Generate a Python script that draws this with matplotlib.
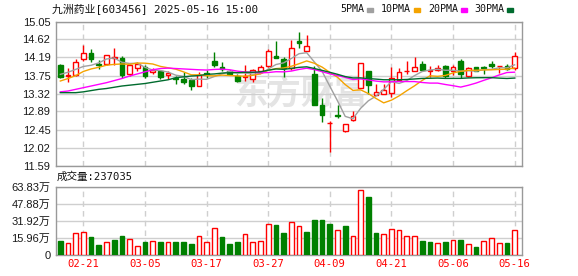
import numpy as np
import pandas as pd
import matplotlib
matplotlib.use("Agg")
import matplotlib.pyplot as plt
from matplotlib.patches import Rectangle

# ── Data ──────────────────────────────────────────────────────────────────────

TITLE = "九洲药业[603456] 2025-05-16 15:00"

DATES = [
    "02-18", "02-19", "02-20", "02-21", "02-24", "02-25", "02-26", "02-27", "02-28",
    "03-03", "03-04", "03-05", "03-06", "03-07", "03-10", "03-11", "03-12", "03-13",
    "03-14", "03-17", "03-18", "03-19", "03-20", "03-21", "03-24", "03-25", "03-26",
    "03-27", "03-28", "03-31", "04-01", "04-02", "04-03", "04-07", "04-08", "04-09",
    "04-10", "04-11", "04-14", "04-15", "04-16", "04-17", "04-18", "04-21", "04-22",
    "04-23", "04-24", "04-25", "04-28", "04-29", "04-30", "05-06", "05-07", "05-08",
    "05-09", "05-12", "05-13", "05-14", "05-15", "05-16",
]
TICK_DATES = ["02-21", "03-05", "03-17", "03-27", "04-09", "04-21", "05-06", "05-16"]

OPEN = [
    14.01, 13.74, 13.775, 14.155, 14.29, 14.02, 14.03, 14.17, 14.17, 13.80,
    13.93, 13.95, 13.83, 13.85, 13.76, 13.70, 13.67, 13.65, 13.49, 13.81,
    14.09, 13.96, 13.87, 13.74, 13.71, 13.67, 13.85, 13.98, 14.23, 14.15,
    13.93, 14.57, 14.34, 13.80, 13.04, 12.60, 12.80, 12.43, 12.69, 13.46,
    13.87, 13.29, 13.32, 13.34, 13.65, 13.85, 13.85, 14.03, 13.85, 13.88,
    13.97, 13.85, 14.09, 13.74, 13.96, 13.95, 14.03, 13.975, 13.98, 13.93,
]
HIGH = [
    14.02, 13.93, 14.15, 14.49, 14.38, 14.13, 14.24, 14.41, 14.23, 14.03,
    14.08, 14.01, 13.93, 13.89, 13.87, 13.74, 13.83, 13.70, 13.83, 13.89,
    14.31, 14.07, 13.89, 13.79, 14.01, 13.92, 14.00, 14.38, 14.59, 14.19,
    14.60, 14.79, 14.72, 13.98, 13.22, 12.66, 13.04, 12.59, 12.89, 14.06,
    13.87, 13.54, 13.56, 13.96, 13.93, 14.10, 14.19, 14.09, 13.97, 14.00,
    14.01, 14.00, 14.15, 13.96, 13.96, 13.97, 14.09, 13.99, 14.04, 14.31,
]
LOW = [
    13.70, 13.60, 13.735, 14.11, 14.075, 13.91, 14.00, 14.01, 13.70, 13.74,
    13.85, 13.70, 13.79, 13.66, 13.68, 13.55, 13.54, 13.40, 13.49, 13.70,
    13.95, 13.85, 13.76, 13.60, 13.63, 13.60, 13.84, 13.95, 14.17, 13.71,
    13.89, 14.41, 14.33, 13.05, 12.64, 11.91, 12.72, 12.39, 12.67, 13.46,
    13.30, 13.29, 13.30, 13.24, 13.62, 13.79, 13.85, 13.85, 13.71, 13.85,
    13.70, 13.77, 13.70, 13.72, 13.85, 13.79, 13.93, 13.81, 13.88, 13.89,
]
CLOSE = [
    13.71, 13.775, 14.075, 14.29, 14.14, 14.00, 14.24, 14.20, 13.77, 14.00,
    14.03, 13.74, 13.88, 13.71, 13.81, 13.66, 13.60, 13.49, 13.77, 13.78,
    14.00, 13.92, 13.78, 13.62, 13.73, 13.88, 13.96, 14.34, 14.17, 13.93,
    14.41, 14.53, 14.46, 13.05, 12.81, 12.62, 12.78, 12.59, 12.77, 14.06,
    13.52, 13.35, 13.40, 13.70, 13.84, 13.86, 13.95, 13.89, 13.88, 13.93,
    13.74, 13.95, 13.79, 13.93, 13.87, 13.93, 13.98, 13.985, 13.92, 14.23,
]
VOLUME = [
    128000, 112000, 202000, 211000, 164000, 96000, 125000, 144000, 182000, 150000,
    83000, 125000, 135000, 125000, 122000, 125000, 125000, 106000, 179000, 125000,
    256000, 164000, 106000, 125000, 199000, 125000, 135000, 288000, 279000, 202000,
    305000, 269000, 211000, 327000, 327000, 288000, 231000, 269000, 182000, 612000,
    539000, 202000, 199000, 247000, 231000, 179000, 179000, 135000, 125000, 115000,
    125000, 144000, 144000, 103000, 77000, 135000, 161000, 115000, 115000, 237035,
]

# moving-average values at the left edge, where the window reaches back
# before the first visible candle
MA5_HEAD = [13.78, 13.83, 13.90, 13.97]
MA10_HEAD = [13.62, 13.68, 13.75, 13.85, 13.91, 13.95, 14.00, 14.02, 14.03]
MA20_HEAD = [13.36, 13.38, 13.42, 13.46, 13.50, 13.54, 13.58, 13.63, 13.68, 13.74,
             13.79, 13.84, 13.89, 13.92, 13.93, 13.92, 13.91, 13.90, 13.89]
MA30_HEAD = [13.34, 13.34, 13.34, 13.36, 13.39, 13.42, 13.44, 13.47, 13.50, 13.52,
             13.54, 13.56, 13.59, 13.62, 13.65, 13.70, 13.72, 13.74, 13.75, 13.78,
             13.79, 13.81, 13.82, 13.82, 13.83, 13.83, 13.84, 13.88, 13.91]

PRICE_TICKS = [11.59, 12.02, 12.45, 12.89, 13.32, 13.75, 14.19, 14.62, 15.05]
VOL_TICKS = [0, 159600, 319200, 478800, 638300]
VOL_LABELS = ["0", "15.96万", "31.92万", "47.88万", "63.83万"]

# ── Style ─────────────────────────────────────────────────────────────────────

W, H = 578, 276
RED = "#ff0000"
GREEN = "#008000"
GRID = "#cfcfcf"
FRAME = "#999999"
MA_COLORS = {5: "#a0a0a0", 10: "#f4a300", 20: "#ff00ff", 30: "#006b2e"}
MONO = ["DejaVu Sans Mono", "Noto Sans CJK SC"]


def fx(px):
    return px / W


def fy(py):
    return 1 - py / H


def moving_average(close, n, head):
    ma = pd.Series(close).rolling(n).mean().to_numpy()
    ma[:n - 1] = head
    return ma


def main():
    o = np.array(OPEN)
    h = np.array(HIGH)
    l = np.array(LOW)
    c = np.array(CLOSE)
    v = np.array(VOLUME)
    x = np.arange(1, len(c) + 1)
    up = c >= o
    # volume colour follows close vs previous close
    prev = np.r_[o[0], c[:-1]]
    vol_up = c >= prev
    tick_x = [DATES.index(d) + 1 for d in TICK_DATES]

    fig = plt.figure(figsize=(W / 100, H / 100), dpi=100)
    ax = fig.add_axes([fx(56), fy(165.5), fx(466), 144 / H])
    axv = fig.add_axes([fx(56), fy(255), fx(466), 68.3 / H])

    # watermark
    ax.text(0.526, 0.49, "东方财富", transform=ax.transAxes, ha="center", va="center",
            fontsize=24, fontweight="bold", color="#e4e4e4",
            family="Noto Sans CJK SC", zorder=0)

    # candles
    ax.vlines(x, l, h, colors=np.where(up, RED, GREEN), lw=1, zorder=2)
    body = np.abs(c - o)
    ax.bar(x, body, bottom=np.minimum(o, c), width=0.62,
           color=np.where(up, "white", GREEN),
           edgecolor=np.where(up, RED, GREEN), lw=1, zorder=3)

    for n, head in [(5, MA5_HEAD), (10, MA10_HEAD), (20, MA20_HEAD), (30, MA30_HEAD)]:
        ax.plot(x, moving_average(c, n, head), color=MA_COLORS[n], lw=1, zorder=4)

    # volume
    axv.bar(x, v, width=0.62, color=np.where(vol_up, "white", GREEN),
            edgecolor=np.where(vol_up, RED, GREEN), lw=1, zorder=3)

    for a in (ax, axv):
        a.set_xlim(0.44, 60.96)
        a.set_xticks(tick_x)
        a.grid(axis="x", color=GRID, ls=(0, (4, 3)), lw=1)
        a.grid(axis="y", color=GRID, ls="-", lw=1)
        a.set_axisbelow(True)
        a.tick_params(length=0, labelsize=8, colors="#1a1a1a", pad=4)
        for s in a.spines.values():
            s.set_color(FRAME)
            s.set_linewidth(1)

    ax.set_ylim(PRICE_TICKS[0], PRICE_TICKS[-1])
    ax.set_yticks(PRICE_TICKS)
    ax.set_yticklabels([f"{p:.2f}" for p in PRICE_TICKS], family="Liberation Sans")
    ax.set_xticklabels([])

    axv.set_ylim(0, VOL_TICKS[-1])
    axv.set_yticks(VOL_TICKS)
    axv.set_yticklabels(VOL_LABELS, family=["Liberation Sans", "Noto Sans CJK SC"])
    axv.set_xticklabels(TICK_DATES, family=MONO, fontsize=7.6, color=RED)
    axv.tick_params(axis="x", pad=3)

    # header texts
    fig.text(fx(52), fy(9.5), TITLE, ha="left", va="center",
             family=MONO, fontsize=7.8, color="#111111")
    fig.text(fx(57), fy(177), f"成交量:{VOLUME[-1]}", ha="left", va="center",
             family=MONO, fontsize=7.6, color="#111111")

    legend = [("5PMA", 340, 367), ("10PMA", 381, 414), ("20PMA", 428, 461), ("30PMA", 474, 507)]
    for (label, tx, sx), n in zip(legend, [5, 10, 20, 30]):
        fig.text(fx(tx), fy(9.5), label, ha="left", va="center",
                 family=MONO, fontsize=7.2, color="#111111")
        fig.patches.append(Rectangle((fx(sx), fy(11.5)), fx(6), 4 / H,
                                     transform=fig.transFigure,
                                     color=MA_COLORS[n], figure=fig))

    fig.savefig("out.png", dpi=100)
    plt.close(fig)


if __name__ == "__main__":
    main()
